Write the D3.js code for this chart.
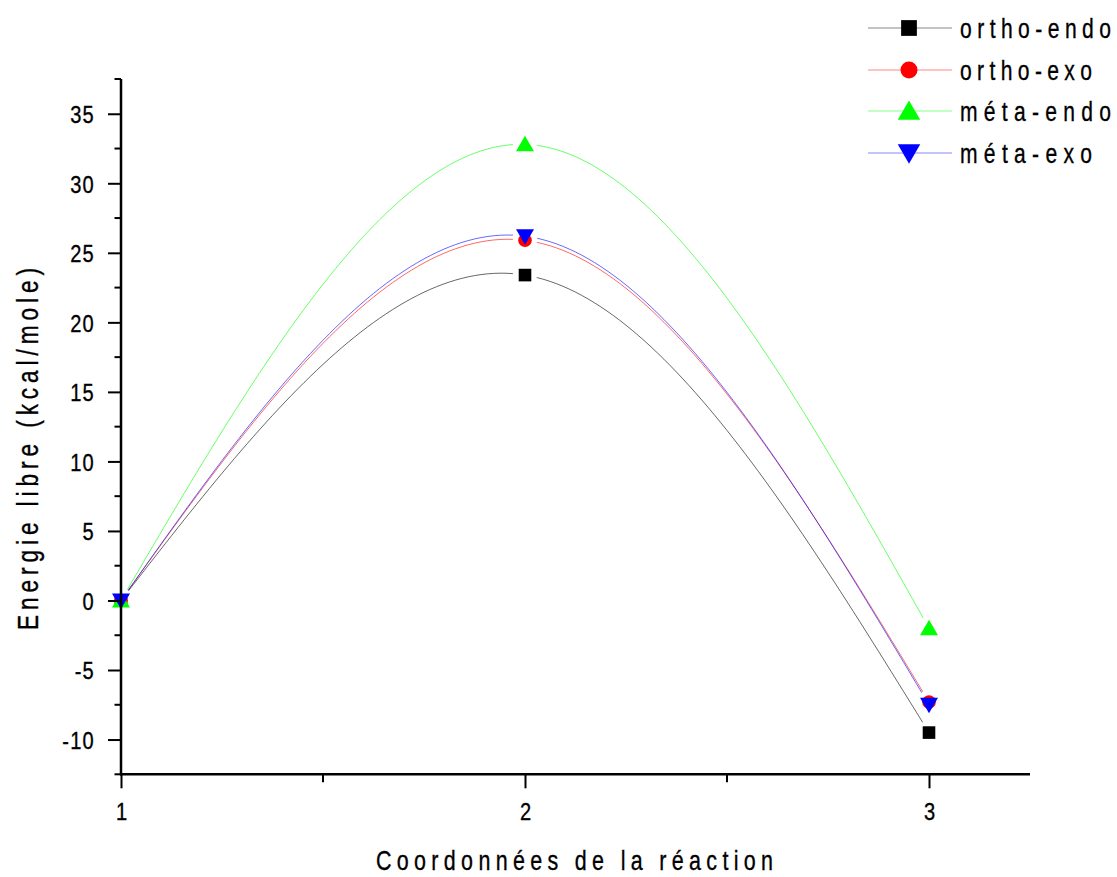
<!DOCTYPE html>
<html>
<head>
<meta charset="utf-8">
<script src="https://cdn.jsdelivr.net/npm/d3@7"></script>
<style>
  html, body { margin: 0; padding: 0; background: #fff; }
  svg { display: block; }
  text { font-family: "Liberation Sans", Arial, "DejaVu Sans", sans-serif; fill: #000; stroke: #000; stroke-width: 0.35px; }
</style>
</head>
<body>
<svg id="chart" width="1117" height="877"></svg>
<script>
// Reaction coordinate positions (reactants, transition state, products)
const steps = [1, 2, 3];

// Free energy (kcal/mole) along the reaction path for each approach
const orthoEndo = [0, 23.4, -9.5];
const orthoExo  = [0, 25.9, -7.3];
const metaEndo  = [0, 32.8, -2.0];
const metaExo   = [0, 26.2, -7.5];

const seriesNames = ["ortho-endo", "ortho-exo", "méta-endo", "méta-exo"];
const seriesColors = ["#000000", "#ff0000", "#00ff00", "#0000ff"];
const seriesShapes = ["square", "circle", "triUp", "triDown"];

const yTicks = [-10, -5, 0, 5, 10, 15, 20, 25, 30, 35];
const yMinorTicks = [-12.5, -7.5, -2.5, 2.5, 7.5, 12.5, 17.5, 22.5, 27.5, 32.5, 37.5];
const xTicks = [1, 2, 3];
const xMinorTicks = [1.5, 2.5];

const series = [orthoEndo, orthoExo, metaEndo, metaExo].map((vals, i) => ({
  name: seriesNames[i],
  color: seriesColors[i],
  shape: seriesShapes[i],
  points: vals.map((v, j) => ({ x: steps[j], y: v }))
}));

const svg = d3.select("#chart");

const x = d3.scaleLinear().domain([1, 3.25]).range([121, 1030]);
const y = d3.scaleLinear().domain([-12.5, 37.5]).range([774.3, 79]);

// Narrow lettering: horizontally squeezed text, optionally stretched to a given width
function narrowText(g, tx, ty, str, size, anchor, width, rotate, sx) {
  sx = sx || 0.82;
  const t = g.append("text")
    .attr("transform", `translate(${tx},${ty})` + (rotate ? ` rotate(${rotate})` : "") + ` scale(${sx},1)`)
    .attr("text-anchor", anchor || "start")
    .attr("font-size", size)
    .text(str);
  if (width) t.attr("textLength", width / sx).attr("lengthAdjust", "spacing");
  return t;
}

// Marker glyphs (k scales the glyph size)
function drawMarker(g, shape, color, cx, cy, k) {
  k = k || 1;
  if (shape === "square") {
    const h = 6.3 * k;
    g.append("rect").attr("x", cx - h).attr("y", cy - h)
      .attr("width", 2 * h).attr("height", 2 * h).attr("fill", color);
  } else if (shape === "circle") {
    g.append("circle").attr("cx", cx).attr("cy", cy).attr("r", 6.8 * k).attr("fill", color);
  } else if (shape === "triUp") {
    g.append("path").attr("d", `M${cx},${cy - 8.5 * k}L${cx + 9 * k},${cy + 7 * k}L${cx - 9 * k},${cy + 7 * k}Z`).attr("fill", color);
  } else {
    g.append("path").attr("d", `M${cx},${cy + 8.5 * k}L${cx + 9 * k},${cy - 7 * k}L${cx - 9 * k},${cy - 7 * k}Z`).attr("fill", color);
  }
}

// Mask leaving a small gap in the curves around each data point
const defs = svg.append("defs");
const mask = defs.append("mask").attr("id", "gapMask").attr("maskUnits", "userSpaceOnUse")
  .attr("x", 0).attr("y", 0).attr("width", 1117).attr("height", 877);
mask.append("rect").attr("width", 1117).attr("height", 877).attr("fill", "#fff");
series.forEach(s => s.points.forEach(p => {
  mask.append("circle").attr("cx", x(p.x)).attr("cy", y(p.y)).attr("r", 12).attr("fill", "#000");
}));

// Smooth connecting curves
const line = d3.line().x(d => x(d.x)).y(d => y(d.y)).curve(d3.curveNatural);
const curves = svg.append("g").attr("mask", "url(#gapMask)");
series.forEach(s => {
  curves.append("path").attr("d", line(s.points)).attr("fill", "none")
    .attr("stroke", s.color).attr("stroke-width", 0.8).attr("stroke-opacity", 0.75);
});

// Markers
const markers = svg.append("g");
series.forEach(s => s.points.forEach(p => drawMarker(markers, s.shape, s.color, x(p.x), y(p.y))));

// Y axis
const yAxis = svg.append("g").attr("transform", "translate(121,0)");
yAxis.call(d3.axisLeft(y).tickValues(yTicks).tickSize(13).tickFormat(""));
yAxis.select(".domain").remove();
yAxis.selectAll(".tick line").attr("stroke", "#000").attr("stroke-width", 2);
yAxis.selectAll(".tick text").remove();
yAxis.selectAll(".tick").each(function (d) {
  narrowText(d3.select(this), -26, 8.8, d < 0 ? "-" + Math.abs(d) : String(d), 24.5, "end")
    .attr("letter-spacing", 1.5);
});
yAxis.selectAll(".minor").data(yMinorTicks).enter().append("line")
  .attr("x1", -6.5).attr("x2", 0).attr("y1", d => y(d)).attr("y2", d => y(d))
  .attr("stroke", "#000").attr("stroke-width", 2);
yAxis.append("line").attr("x1", 0).attr("x2", 0).attr("y1", y(37.5)).attr("y2", y(-12.5) + 1)
  .attr("stroke", "#000").attr("stroke-width", 2.5);

// X axis
const xAxis = svg.append("g").attr("transform", `translate(0,${y(-12.5)})`);
xAxis.call(d3.axisBottom(x).tickValues(xTicks).tickSize(14).tickFormat(""));
xAxis.select(".domain").remove();
xAxis.selectAll(".tick line").attr("stroke", "#000").attr("stroke-width", 2);
xAxis.selectAll(".tick text").remove();
xAxis.selectAll(".tick").each(function (d) {
  narrowText(d3.select(this), 0, 45.5, d3.format("d")(d), 24.5, "middle");
});
xAxis.selectAll(".minor").data(xMinorTicks).enter().append("line")
  .attr("x1", d => x(d)).attr("x2", d => x(d)).attr("y1", 0).attr("y2", 8)
  .attr("stroke", "#000").attr("stroke-width", 2);
xAxis.append("line").attr("x1", x(1) - 1).attr("x2", x(3.25)).attr("y1", 0).attr("y2", 0)
  .attr("stroke", "#000").attr("stroke-width", 2.5);

// Axis titles
narrowText(svg, 376, 870, "Coordonnées de la réaction", 27.5, "start", 397, null, 0.78);
narrowText(svg, 38, 630, "Energie libre (kcal/mole)", 29, "start", 362, -90, 0.78);

// Legend
const legendRows = [28, 70, 111, 153];
const legendWidths = [151, 132, 151, 132];
const legend = svg.append("g");
series.forEach((s, i) => {
  const ly = legendRows[i];
  legend.append("line").attr("x1", 868).attr("x2", 952).attr("y1", ly).attr("y2", ly)
    .attr("stroke", s.color).attr("stroke-width", 0.8).attr("stroke-opacity", 0.6);
  drawMarker(legend, s.shape, s.color, 909, ly, 1.25);
  narrowText(legend, 960, ly + 10, s.name, 28.5, "start", legendWidths[i], null, 0.74);
});
</script>
</body>
</html>
